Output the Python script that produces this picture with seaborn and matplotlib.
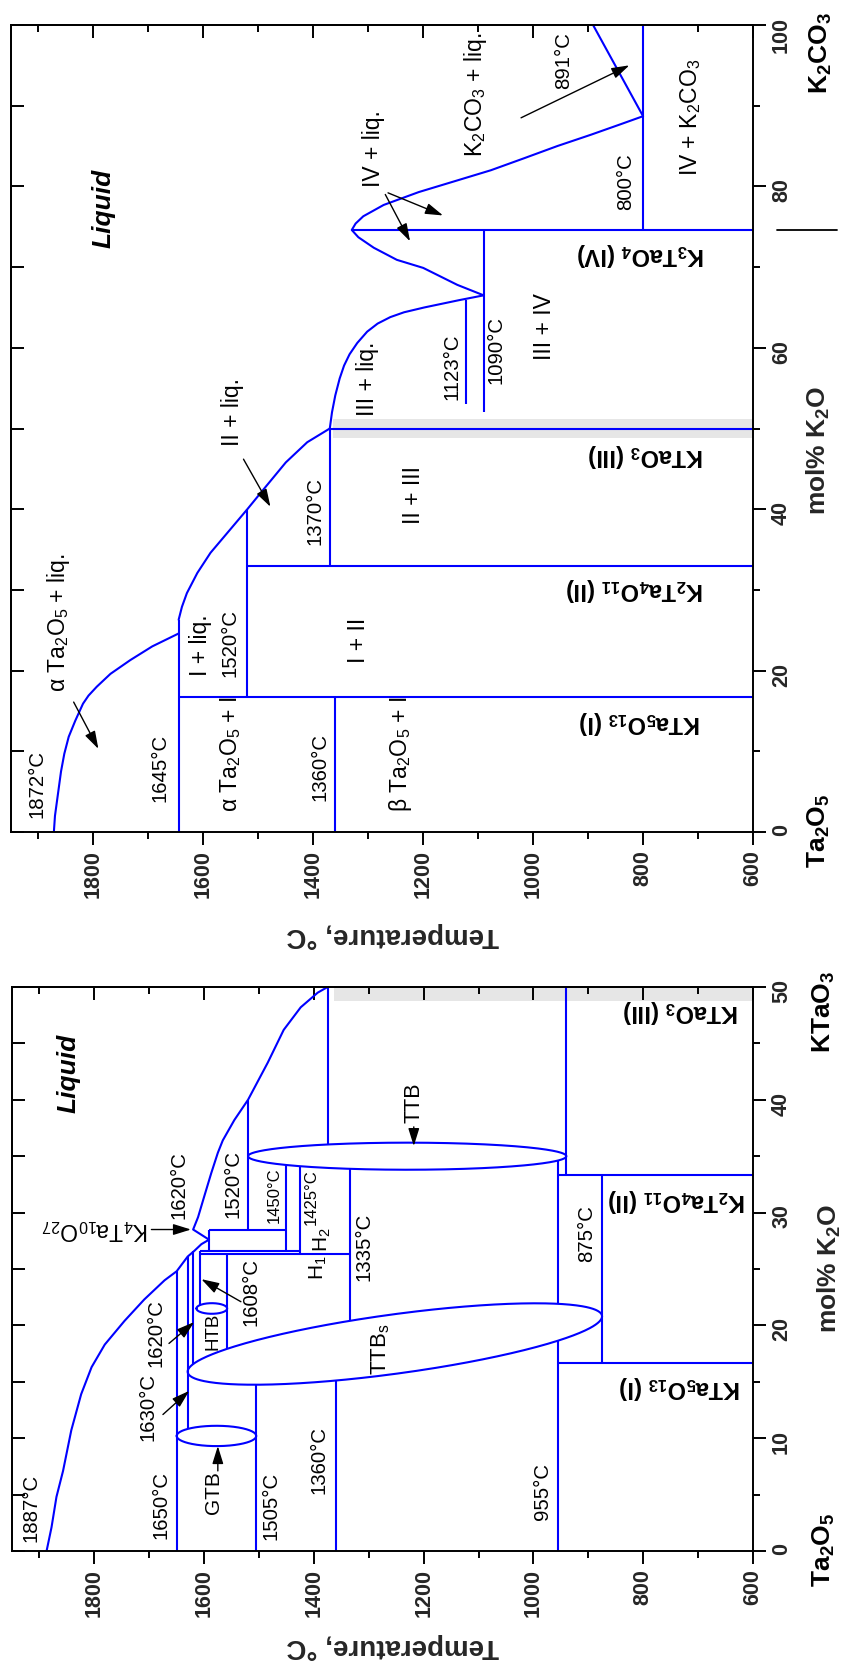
import numpy as np
import matplotlib
matplotlib.use("Agg")
import matplotlib.pyplot as plt
from matplotlib.ticker import MultipleLocator
from matplotlib.transforms import blended_transform_factory
import seaborn as sns

sns.set_theme(style="ticks")
plt.rcParams["font.family"] = ["Liberation Sans", "DejaVu Sans"]
plt.rcParams["mathtext.default"] = "regular"
plt.rcParams["axes.linewidth"] = 1.4

BLUE = "#0000ff"
GREY = "#e6e6e6"

# ---------------- Ta2O5 - K2CO3 system (upper diagram) ----------------
# liquidus branches: composition (mol% K2O) and temperature (deg C)
top_liq_ta2o5_mol = [0, 2.0, 4.0, 5.5, 7.5, 9.7, 11.8, 13.8, 15.9, 16.9, 18.0,
                     19.6, 21.3, 23.0, 24.6]
top_liq_ta2o5_T = [1872, 1870, 1866, 1863, 1859, 1853, 1845, 1833, 1819, 1809, 1794,
                   1769, 1733, 1693, 1645]
top_liq_I_mol = [26.3, 27.9, 29.6, 32.1, 34.6, 37.5, 40.0, 42.5, 45.8, 48.3, 50.0]
top_liq_I_T = [1645, 1639, 1630, 1611, 1587, 1551, 1520, 1490, 1450, 1411, 1370]
top_liq_III_mol = [50.0, 52.0, 54.1, 56.2, 57.8, 59.2, 60.6, 62.0, 63.0, 63.8,
                   64.4, 65.0, 65.9, 66.5]
top_liq_III_T = [1370, 1366, 1360, 1352, 1344, 1334, 1320, 1302, 1283, 1260,
                 1235, 1198, 1135, 1090]
top_liq_IV_mol = [66.5, 67.8, 69.9, 70.9, 72.4, 73.7, 74.6, 75.4, 76.3, 77.7, 79.3,
                  80.7, 82.0, 83.5, 85.0, 86.4, 87.7, 88.7]
top_liq_IV_T = [1090, 1138, 1200, 1248, 1290, 1318, 1330, 1323, 1309, 1272, 1208,
                1140, 1077, 1016, 956, 895, 841, 800]
top_liq_k2co3_mol = [88.7, 100]
top_liq_k2co3_T = [800, 891]

# invariant isotherms: temperature and composition span
top_iso_T = [1645, 1520, 1370, 1360, 1123, 1090, 800]
top_iso_from = [0, 16.7, 33.0, 0, 53.0, 52.0, 74.6]
top_iso_to = [26.3, 40.0, 50.0, 16.7, 65.9, 74.6, 100]

# compound lines: composition and upper temperature (down to 600)
top_cmp_mol = [16.7, 33.0, 50.0, 74.6]
top_cmp_T = [1645, 1520, 1370, 1330]

# ---------------- Ta2O5 - KTaO3 section (lower diagram) ----------------
bot_liq_mol = [0, 2.1, 4.8, 7.1, 10.7, 13.9, 16.3, 18.3, 20.4, 22.3, 24.0, 24.8,
               26.1, 26.6, 27.2, 27.6, 28.5, 29.6, 31.4, 33.5, 35.3, 36.4, 38.2,
               40.0, 43.3, 46.2, 48.2, 49.5, 50.0]
bot_liq_T = [1887, 1878, 1869, 1857, 1842, 1824, 1805, 1781, 1745, 1709, 1672, 1650,
             1630, 1618, 1605, 1591, 1620, 1611, 1600, 1587, 1575, 1566, 1545,
             1520, 1484, 1455, 1424, 1393, 1375]

bot_iso_T = [1650, 1630, 1620, 1608, 1558, 1505, 1360, 1591, 1520,
             1450, 1425, 1335, 1375, 955, 955, 940, 875]
bot_iso_from = [0, 10.8, 16.6, 21.8, 17.9, 0, 0, 26.6, 28.5,
                26.6, 26.3, 20.4, 36.0, 0, 22.0, 33.3, 16.7]
bot_iso_to = [24.8, 26.1, 26.6, 26.6, 26.3, 14.7, 15.1, 28.5, 40.0,
              34.2, 34.1, 33.9, 50.0, 18.6, 34.6, 50.0, 33.3]

bot_cmp_mol = [28.5, 26.6, 26.3, 16.7, 33.3]
bot_cmp_Thi = [1591, 1608, 1608, 955, 955]
bot_cmp_Tlo = [1450, 1425, 1335, 600, 600]

# solid-solution fields drawn as ellipses (centre, half extent)
ell_T = [1577.5, 1586, 1230]
ell_mol = [10.2, 21.5, 35.0]
ell_dT = [72.5, 28, 290]
ell_dmol = [0.9, 0.47, 1.2]
# tilted TTBs field: end points and half width
ttbs_tip_T = [1630, 875]
ttbs_tip_mol = [15.9, 20.8]
ttbs_half_width = 2.65

# KTaO3 homogeneity band
band_T = [1364, 600]
band_mol = [48.8, 51.2]

W, H = 848, 1664
fig = plt.figure(figsize=(W / 100, H / 100), dpi=100)


def frame(x0, y0, x1, y1):
    return [x0 / W, 1 - y1 / H, (x1 - x0) / W, (y1 - y0) / H]


ax_top = fig.add_axes(frame(11, 25, 753, 832))
ax_bot = fig.add_axes(frame(12, 987, 753, 1551))


def style(ax, ymax, ymaj, ymin):
    ax.set_xlim(1950, 600)
    ax.set_ylim(0, ymax)
    ax.xaxis.set_major_locator(MultipleLocator(200))
    ax.xaxis.set_minor_locator(MultipleLocator(100))
    ax.yaxis.set_major_locator(MultipleLocator(ymaj))
    ax.yaxis.set_minor_locator(MultipleLocator(ymin))
    ax.yaxis.tick_right()
    ax.yaxis.set_label_position("right")
    ax.tick_params(which="major", direction="out", length=9, width=1.4,
                   labelsize=15.5, pad=4, color="black")
    ax.tick_params(which="minor", direction="out", length=5, width=1.4, color="black")
    ax.tick_params(axis="x", labelrotation=90)
    ax.tick_params(axis="y", labelrotation=90)
    for lab in ax.get_xticklabels() + ax.get_yticklabels():
        lab.set_fontweight("bold")
    for sp in ax.spines.values():
        sp.set_color("black")
        sp.set_linewidth(1.4)
    sx = ax.secondary_xaxis("top")
    sx.xaxis.set_major_locator(MultipleLocator(200))
    sx.xaxis.set_minor_locator(MultipleLocator(100))
    sx.tick_params(which="major", direction="in", length=9, width=1.4,
                   labeltop=False, labelbottom=False, color="black")
    sx.tick_params(which="minor", direction="in", length=5, width=1.4, color="black")
    sy = ax.secondary_yaxis("left")
    sy.yaxis.set_major_locator(MultipleLocator(ymaj))
    sy.yaxis.set_minor_locator(MultipleLocator(ymin))
    sy.tick_params(which="major", direction="in", length=9, width=1.4,
                   labelleft=False, labelright=False, color="black")
    sy.tick_params(which="minor", direction="in", length=9, width=1.4, color="black")
    ax.grid(False)


style(ax_top, 100, 20, 10)
style(ax_bot, 50, 10, 5)

LW = 1.5


def curve(ax, mol, T):
    sns.lineplot(x=T, y=mol, ax=ax, sort=False, estimator=None,
                 color=BLUE, lw=LW, zorder=2)


def isotherms(ax, Ts, lo, hi):
    ax.vlines(Ts, lo, hi, colors=BLUE, lw=LW, zorder=2)


def compounds(ax, mols, Thi, Tlo):
    ax.hlines(mols, Tlo, Thi, colors=BLUE, lw=LW, zorder=2)


def note(ax, T, mol, s, size=14.7, rot=90, **kw):
    ax.text(T, mol, s, rotation=rot, ha="center", va="center",
            fontsize=size, color="black", zorder=4, **kw)


def arrow(ax, tail, head):
    ax.annotate("", xy=head, xytext=tail,
                arrowprops=dict(arrowstyle="-|>,head_length=0.9,head_width=0.28",
                                color="black", lw=1.0, shrinkA=0, shrinkB=0,
                                mutation_scale=12), zorder=4)


# ---------------- upper diagram ----------------
ax = ax_top
ax.fill_between(band_T, band_mol[0], band_mol[1], color=GREY, lw=0, zorder=0)
for m, t in [(top_liq_ta2o5_mol, top_liq_ta2o5_T), (top_liq_I_mol, top_liq_I_T),
             (top_liq_III_mol, top_liq_III_T), (top_liq_IV_mol, top_liq_IV_T),
             (top_liq_k2co3_mol, top_liq_k2co3_T)]:
    curve(ax, m, t)
isotherms(ax, top_iso_T, top_iso_from, top_iso_to)
compounds(ax, top_cmp_mol, top_cmp_T, [600] * len(top_cmp_mol))

note(ax, 1782, 77.3, "Liquid", 19, fontweight="bold", fontstyle="italic")
note(ax, 1291, 84.7, "IV + liq.", 16.5)
note(ax, 1104, 91.4, "K$_2$CO$_3$ + liq.", 16.5)
note(ax, 944, 95.6, "891°C")
note(ax, 831, 80.6, "800°C")
note(ax, 713, 88.5, "IV + K$_2$CO$_3$", 16.5)
note(ax, 805, 71.5, "K$_3$TaO$_4$ (IV)", 17, 180, fontweight="bold")
note(ax, 1147, 57.7, "1123°C")
note(ax, 1067, 59.7, "1090°C")
note(ax, 980, 62.6, "III + IV", 16.5)
note(ax, 1302, 56.2, "III + liq.", 16.5)
note(ax, 795, 46.7, "KTaO$_3$ (III)", 17, 180, fontweight="bold")
note(ax, 1547, 52.1, "II + liq.", 16.5)
note(ax, 1396, 39.8, "1370°C")
note(ax, 1218, 41.7, "II + III", 16.5)
note(ax, 1864, 26.0, "α Ta$_2$O$_5$ + liq.", 16.5)
note(ax, 1605, 23.2, "I + liq.", 16.5)
note(ax, 1551, 23.4, "1520°C")
note(ax, 1318, 23.7, "I + II", 16.5)
note(ax, 1902, 5.9, "1872°C")
note(ax, 1678, 8.0, "1645°C")
note(ax, 1551, 9.7, "α Ta$_2$O$_5$ + I", 16.5)
note(ax, 1387, 8.0, "1360°C")
note(ax, 1242, 9.7, "β Ta$_2$O$_5$ + I", 16.5)
note(ax, 805, 13.6, "KTa$_5$O$_{13}$ (I)", 17, 180, fontweight="bold")
note(ax, 815, 30.1, "K$_2$Ta$_4$O$_{11}$ (II)", 17, 180, fontweight="bold")

arrow(ax, (1836, 16.1), (1791, 10.3))
arrow(ax, (1527, 46.2), (1478, 40.3))
arrow(ax, (1264, 79.2), (1164, 76.4))
arrow(ax, (1269, 79.0), (1224, 73.2))
arrow(ax, (1022, 88.5), (825, 95.0))

# composition marker of K3TaO4 beyond the axis
tr = blended_transform_factory(ax.transAxes, ax.transData)
ax.plot([1.032, 1.113], [top_cmp_mol[3]] * 2, transform=tr, clip_on=False,
        color="black", lw=1.3)

# ---------------- lower diagram ----------------
ax = ax_bot
ax.fill_between(band_T, band_mol[0], band_mol[1], color=GREY, lw=0, zorder=0)
curve(ax, bot_liq_mol, bot_liq_T)
isotherms(ax, bot_iso_T, bot_iso_from, bot_iso_to)
compounds(ax, bot_cmp_mol, bot_cmp_Thi, bot_cmp_Tlo)

t = np.linspace(0, 2 * np.pi, 400)
for cT, cm, dT, dm in zip(ell_T, ell_mol, ell_dT, ell_dmol):
    ax.plot(cT + dT * np.cos(t), cm + dm * np.sin(t), color=BLUE, lw=LW, zorder=2)
cT = (ttbs_tip_T[0] + ttbs_tip_T[1]) / 2
cm = (ttbs_tip_mol[0] + ttbs_tip_mol[1]) / 2
aT = (ttbs_tip_T[1] - ttbs_tip_T[0]) / 2
am = (ttbs_tip_mol[1] - ttbs_tip_mol[0]) / 2
ax.plot(cT + aT * np.cos(t), cm + am * np.cos(t) + ttbs_half_width * np.sin(t),
        color=BLUE, lw=LW, zorder=2)

note(ax, 1847, 42.3, "Liquid", 19, fontweight="bold", fontstyle="italic")
note(ax, 1645, 32.4, "1620°C")
note(ax, 1798, 28.5, "K$_4$Ta$_{10}$O$_{27}$", 16.5, 180)
note(ax, 1547, 32.5, "1520°C")
note(ax, 1473, 31.5, "1450°C", 12)
note(ax, 1405, 31.4, "1425°C", 12)
note(ax, 1384, 27.6, "H$_2$", 15)
note(ax, 1391, 25.1, "H$_1$", 15)
note(ax, 1309, 27.0, "1335°C")
note(ax, 1218, 39.7, "TTB", 15.5)
note(ax, 1278, 17.9, "TTB$_s$", 16)
note(ax, 1584, 19.5, "HTB", 13.5)
note(ax, 1515, 23.0, "1608°C")
note(ax, 1915, 3.8, "1887°C")
note(ax, 1678, 4.1, "1650°C")
note(ax, 1582, 5.2, "GTB", 15)
note(ax, 1478, 4.0, "1505°C")
note(ax, 1391, 8.1, "1360°C")
note(ax, 1702, 12.8, "1630°C")
note(ax, 1687, 19.3, "1620°C")
note(ax, 984, 5.3, "955°C")
note(ax, 904, 28.1, "875°C")
note(ax, 731, 47.8, "KTaO$_3$ (III)", 17, 180, fontweight="bold")
note(ax, 740, 31.1, "K$_2$Ta$_4$O$_{11}$ (II)", 17, 180, fontweight="bold")
note(ax, 733, 14.5, "KTa$_5$O$_{13}$ (I)", 17, 180, fontweight="bold")

arrow(ax, (1696, 28.5), (1624, 28.5))
arrow(ax, (1218, 37.6), (1218, 35.9))
arrow(ax, (1533, 22.1), (1605, 24.1))
arrow(ax, (1575, 7.1), (1575, 9.3))
arrow(ax, (1675, 12.1), (1627, 14.2))
arrow(ax, (1664, 18.4), (1618, 20.3))

# ---------------- axis titles ----------------
for a, xl, yl in [(ax_top, (0.515, -0.1276), (1.0876, 0.4734)),
                  (ax_bot, (0.514, -0.168), (1.1026, 0.502))]:
    a.set_xlabel("Temperature, °C", fontsize=20, fontweight="bold", rotation=180,
                 ha="center", va="center")
    a.xaxis.set_label_coords(*xl)
    a.set_ylabel("mol% K$_2$O", fontsize=19, fontweight="bold", rotation=90,
                 ha="center", va="center")
    a.yaxis.set_label_coords(*yl)


def end_label(x, y, s):
    fig.text(x / W, 1 - y / H, s, rotation=90, ha="center", va="center",
             fontsize=19, fontweight="bold", color="black")


end_label(821, 53, "K$_2$CO$_3$")
end_label(819, 831, "Ta$_2$O$_5$")
end_label(824, 1012, "KTaO$_3$")
end_label(824, 1550, "Ta$_2$O$_5$")

fig.savefig("out.png", dpi=100, facecolor="white")
